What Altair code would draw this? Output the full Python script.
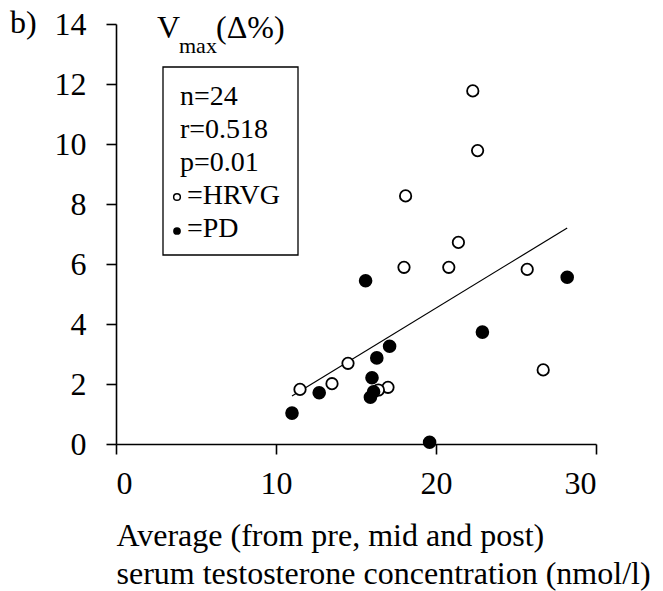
import altair as alt
import pandas as pd

# ---- data ----
hrvg_x = [22.3, 22.6, 18.1, 21.4, 18.0, 20.8, 25.7, 26.7, 14.5, 13.5, 11.5, 17.0, 16.4]
hrvg_y = [11.77, 9.78, 8.27, 6.72, 5.89, 5.89, 5.82, 2.47, 2.69, 2.01, 1.82, 1.89, 1.80]
pd_x = [15.6, 28.2, 22.9, 17.1, 16.3, 16.0, 12.7, 16.1, 15.9, 11.0, 19.6]
pd_y = [5.44, 5.56, 3.73, 3.26, 2.87, 2.21, 1.71, 1.74, 1.56, 1.03, 0.06]
fit_x = [11.0, 28.2]
fit_y = [1.6, 7.2]
x_ticks = [0, 10, 20, 30]
y_ticks = [0, 2, 4, 6, 8, 10, 12, 14]
x_title = ["Average (from pre, mid and post)", "serum testosterone concentration (nmol/l)"]
stats_lines = ["n=24", "r=0.518", "p=0.01"]
group_lines = ["=HRVG", "=PD"]

FONT = "Liberation Serif"

df_h = pd.DataFrame({"x": hrvg_x, "y": hrvg_y})
df_p = pd.DataFrame({"x": pd_x, "y": pd_y})
df_fit = pd.DataFrame({"x": fit_x, "y": fit_y})
one = pd.DataFrame({"a": [0]})

xs = alt.X("x:Q", scale=alt.Scale(domain=[0, 30], nice=False),
           axis=alt.Axis(values=x_ticks, title=x_title, titleAlign="left",
                         titleAnchor="start", titleX=0, titleY=101,
                         titleBaseline="alphabetic", titleLineHeight=38,
                         titleFontWeight="normal", titleFontSize=32,
                         labelPadding=14))
ys = alt.Y("y:Q", scale=alt.Scale(domain=[0, 14], nice=False),
           axis=alt.Axis(values=y_ticks, title=None, labelPadding=20))

fit = alt.Chart(df_fit).mark_line(color="black", strokeWidth=1.2).encode(x=xs, y=ys)
open_pts = alt.Chart(df_h).mark_point(shape="circle", filled=False, fill="white",
                                      stroke="black", strokeWidth=1.8, size=130,
                                      opacity=1).encode(x=xs, y=ys)
filled_pts = alt.Chart(df_p).mark_point(shape="circle", filled=True, color="black",
                                        size=185, opacity=1).encode(x=xs, y=ys)

def txt(text, x, y, size=32, **kw):
    return alt.Chart(one).mark_text(font=FONT, fontSize=size, align="left",
                                    baseline="alphabetic", color="black", **kw).encode(
        x=alt.value(x), y=alt.value(y), text=alt.value(text))

b_label = txt("b)", -106, 9)
v_main = txt("V", 41, 14)
v_sub = txt("max", 63, 29, size=22)
v_rest = txt("(Δ%)", 100, 14)

box = alt.Chart(one).mark_rect(fillOpacity=0, stroke="black", strokeWidth=1.3).encode(
    x=alt.value(47), x2=alt.value(182), y=alt.value(43), y2=alt.value(231))

stats = txt(stats_lines, 64, 81, size=28, lineHeight=33)
groups = txt(group_lines, 71, 180, size=28, lineHeight=33)
m_open = alt.Chart(one).mark_point(shape="circle", filled=False, stroke="black",
                                   strokeWidth=1.5, size=45, opacity=1).encode(
    x=alt.value(61), y=alt.value(173))
m_fill = alt.Chart(one).mark_point(shape="circle", filled=True, color="black",
                                   size=60, opacity=1).encode(
    x=alt.value(61), y=alt.value(207))

chart = alt.layer(fit, open_pts, filled_pts, b_label, v_main, v_sub, v_rest,
                  box, stats, groups, m_open, m_fill).properties(
    width=480, height=420,
    background="white",
    autosize=alt.AutoSizeParams(type="none"),
    padding={"left": 108, "top": 16, "right": 59, "bottom": 160},
).configure_view(stroke=None).configure_axis(
    grid=False, domainColor="black", domainWidth=1.6, tickColor="black",
    tickWidth=1.6, tickSize=10, labelColor="black", labelFont=FONT,
    labelFontSize=32, titleFont=FONT, titleColor="black",
)

chart.save("out.html", embed_options={"renderer": "svg", "actions": False})
